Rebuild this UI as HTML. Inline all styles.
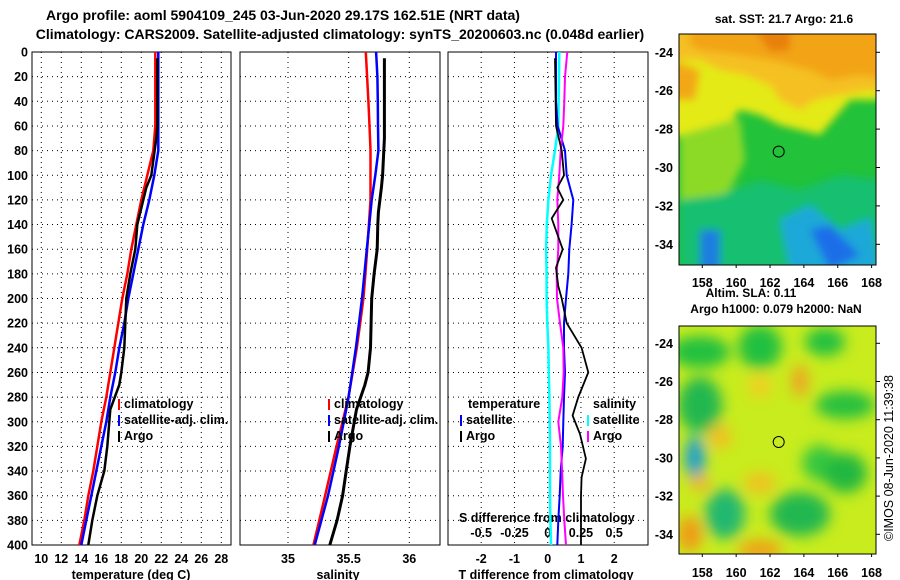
<!DOCTYPE html>
<html><head><meta charset="utf-8"><style>
body{margin:0;background:#fff;}
svg{display:block;font-family:"Liberation Sans",Arial,sans-serif;font-weight:bold;}
</style></head><body>
<svg id="c" width="900" height="580" viewBox="0 0 900 580" xmlns="http://www.w3.org/2000/svg">
<defs>
<filter id="bl" x="-20%" y="-20%" width="140%" height="140%"><feGaussianBlur stdDeviation="7"/></filter>
<filter id="bl2" x="-20%" y="-20%" width="140%" height="140%"><feGaussianBlur stdDeviation="4"/></filter>
<clipPath id="m1"><rect x="679" y="34" width="197" height="231"/></clipPath>
<clipPath id="m2"><rect x="679" y="326" width="197" height="228"/></clipPath>
</defs>
<text x="283" y="20" font-size="14" text-anchor="middle">Argo profile: aoml 5904109_245 03-Jun-2020 29.17S 162.51E (NRT data)</text>
<text x="340" y="39" font-size="14" text-anchor="middle">Climatology: CARS2009. Satellite-adjusted climatology: synTS_20200603.nc (0.048d earlier)</text>

<g clip-path="url(#m1)">
<rect x="679" y="34" width="197" height="231" fill="#22c23a"/>
<g filter="url(#bl2)">
<path d="M670 25 L890 25 L890 100 L850 100 L820 135 L780 125 L760 115 L740 110 L735 115 L728 135 L700 140 L670 135 Z" fill="#e4ea18"/>
<path d="M670 25 L890 25 L890 95 L870 90 L840 95 L815 100 L800 110 L780 100 L770 85 L745 75 L720 70 L700 60 L670 60 Z" fill="#f5c020"/>
<path d="M690 25 L890 25 L890 80 L860 75 L830 80 L810 70 L790 65 L770 60 L740 55 L700 50 L690 45 Z" fill="#f2a418"/>
<path d="M755 30 L790 30 L790 50 L770 52 Z" fill="#e88010"/>
<path d="M670 60 L700 70 L695 100 L670 100 Z" fill="#f2a818"/>
<path d="M680 135 L740 118 L745 160 L730 190 L700 210 L680 200 Z" fill="#8cda28"/>
<path d="M680 200 L720 195 L760 180 L800 190 L840 175 L880 180 L880 270 L680 270 Z" fill="#18c070"/>
<path d="M780 220 L810 205 L840 230 L870 218 L880 270 L790 270 Z" fill="#1aa8d8"/>
<path d="M700 230 L720 230 L720 270 L700 270 Z" fill="#1a7ee0"/>
<path d="M810 230 L830 225 L860 255 L830 270 Z" fill="#1a6ee8"/>
</g>
</g>
<rect x="679" y="34" width="197" height="231" fill="none" stroke="#000" stroke-width="1"/>
<g clip-path="url(#m2)">
<rect x="679" y="326" width="197" height="228" fill="#c8ec1e"/>
<g filter="url(#bl)">
<ellipse cx="700" cy="352" rx="30" ry="16" fill="#22c040"/>
<ellipse cx="760" cy="347" rx="22" ry="22" fill="#22c040"/>
<ellipse cx="825" cy="342" rx="20" ry="14" fill="#22c040"/>
<ellipse cx="700" cy="405" rx="22" ry="28" fill="#22b850"/>
<ellipse cx="845" cy="405" rx="30" ry="14" fill="#28c040"/>
<ellipse cx="820" cy="463" rx="18" ry="18" fill="#38c840"/>
<ellipse cx="845" cy="473" rx="22" ry="20" fill="#22b840"/>
<ellipse cx="800" cy="514" rx="30" ry="22" fill="#20b850"/>
<ellipse cx="725" cy="514" rx="20" ry="25" fill="#20b870"/>
<ellipse cx="695" cy="458" rx="10" ry="22" fill="#1f9ed0"/>
<ellipse cx="760" cy="386" rx="12" ry="12" fill="#f0d020"/>
<ellipse cx="800" cy="381" rx="8" ry="16" fill="#f0a020"/>
<ellipse cx="720" cy="437" rx="12" ry="12" fill="#f2c020"/>
<ellipse cx="760" cy="483" rx="16" ry="10" fill="#f2c020"/>
<ellipse cx="690" cy="534" rx="12" ry="18" fill="#f09a18"/>
<ellipse cx="760" cy="550" rx="22" ry="10" fill="#f0a018"/>
<ellipse cx="700" cy="483" rx="10" ry="8" fill="#f0b020"/>
</g>
</g>
<rect x="679" y="326" width="197" height="228" fill="none" stroke="#000" stroke-width="1"/>
<text x="784" y="23" font-size="12" text-anchor="middle">sat. SST: 21.7 Argo: 21.6</text>
<text x="751" y="297" font-size="12" text-anchor="middle">Altim. SLA: 0.11</text>
<text x="776" y="313" font-size="12" text-anchor="middle">Argo h1000: 0.079 h2000: NaN</text>
<text transform="translate(893,458) rotate(-90)" font-size="12.5" font-weight="normal" text-anchor="middle">©IMOS 08-Jun-2020 11:39:38</text>
<g id="dyn"></g>
</svg>
<script>
const depths=[0,20,40,60,80,100,120,140,160,180,200,220,240,260,280,300,320,340,360,380,400];
const tempClim=[21.4,21.4,21.4,21.4,21.2,20.6,20.0,19.5,19.0,18.6,18.1,17.7,17.3,16.9,16.5,16.0,15.6,15.2,14.7,14.3,13.8];
const tempSat=[21.7,21.7,21.7,21.7,21.7,21.3,20.8,20.2,19.7,19.2,18.7,18.3,17.8,17.4,16.9,16.5,16.0,15.5,15.0,14.5,14.0];
const argoDepths=[5,60,70,100,110,130,140,160,180,200,240,260,270,290,320,340,360,380,400];
const tempArgo=[21.6,21.6,21.5,21.0,20.5,19.9,19.6,19.4,18.9,18.5,18.3,18.0,17.8,16.9,16.6,16.3,15.6,15.1,14.7];
const salClim=[35.641,35.652,35.663,35.672,35.68,35.68,35.68,35.667,35.653,35.638,35.622,35.595,35.567,35.533,35.498,35.45,35.40,35.353,35.306,35.258,35.209];
const salSat=[35.726,35.737,35.74,35.742,35.745,35.72,35.69,35.67,35.65,35.63,35.61,35.585,35.56,35.53,35.50,35.46,35.42,35.375,35.33,35.275,35.22];
const salArgo=[35.795,35.795,35.795,35.78,35.77,35.745,35.74,35.735,35.71,35.69,35.68,35.66,35.634,35.565,35.51,35.48,35.45,35.405,35.345];
const dTSat=[0.25,0.25,0.25,0.3,0.52,0.57,0.77,0.72,0.65,0.62,0.55,0.49,0.49,0.52,0.49,0.47,0.45,0.39,0.36,0.32,0.29];
const dTDepths=[5,60,80,100,110,120,135,160,175,190,200,220,240,260,280,295,310,330,345,360,400];
const dTArgo=[0.22,0.25,0.42,0.49,0.29,0.47,0.12,0.45,0.25,0.32,0.42,0.57,1.02,1.22,0.92,0.75,0.97,1.15,1.02,1.0,1.0];
const dSSat=[0.0875,0.085,0.082,0.08,0.055,0.025,0.005,-0.007,-0.012,-0.008,-0.008,-0.003,0.005,0.008,0.0125,0.015,0.017,0.017,0.017,0.02,0.025];
const dSArgo=[0.1475,0.13,0.125,0.117,0.0975,0.0875,0.0725,0.08,0.08,0.0675,0.07,0.0925,0.1175,0.12,0.11,0.08,0.1,0.108,0.115,0.125,0.1375];
const depthTicks=[0,20,40,60,80,100,120,140,160,180,200,220,240,260,280,300,320,340,360,380,400];
const tempTicks=[10,12,14,16,18,20,22,24,26,28];
const salTicks=[35,35.5,36];
const dTTicks=[-2,-1,0,1,2];
const dSTickLabels=["-0.5","-0.25","0","0.25","0.5"];
const dSTicks=[-0.5,-0.25,0,0.25,0.5];
const latTicks=[-24,-26,-28,-30,-32,-34];
const lonTicks=[158,160,162,164,166,168];

const NS="http://www.w3.org/2000/svg";
const G=document.getElementById('dyn');
function mk(tag,attrs,parent){const e=document.createElementNS(NS,tag);for(const k in attrs)e.setAttribute(k,attrs[k]);(parent||G).appendChild(e);return e;}
const TOP=52,BOT=545;
const Y=d=>TOP+d*((BOT-TOP)/400);
const xT=v=>41.3+(v-10)*10;
const xS=v=>288+(v-35)*121.3;
const xD=v=>547.7+v*33.25;
const xDS=v=>547.7+v*133;
const panels=[[32,231],[240,440],[448,648]];
panels.forEach((p,i)=>{
  const r=mk('rect',{x:p[0],y:TOP,width:p[1]-p[0],height:BOT-TOP,fill:'none',stroke:'#000','stroke-width':1});
  
  
  depthTicks.forEach(d=>{if(d>0&&d<400){const l=mk('line',{x1:p[0],x2:p[1],y1:Y(d),y2:Y(d),stroke:'#000','stroke-dasharray':'1,4'});
    
    }});
});
function vgrid(vals,f){vals.forEach(v=>{const x=f(v);const l=mk('line',{x1:x,x2:x,y1:TOP,y2:BOT,stroke:'#000','stroke-dasharray':'1,4'});
  
  });}
vgrid(tempTicks,xT);vgrid(salTicks,xS);vgrid(dTTicks,xD);
depthTicks.forEach(d=>{const t=mk('text',{x:28,y:Y(d)+4.5,'font-size':12.5,'text-anchor':'end'});t.textContent=d;
  
  });
tempTicks.forEach(v=>{const t=mk('text',{x:xT(v),y:563,'font-size':12.5,'text-anchor':'middle'});t.textContent=v;
  
  });
salTicks.forEach(v=>{const t=mk('text',{x:xS(v),y:563,'font-size':12.5,'text-anchor':'middle'});t.textContent=v;
  
  });
dTTicks.forEach(v=>{const t=mk('text',{x:xD(v),y:563,'font-size':12.5,'text-anchor':'middle'});t.textContent=v;
  
  });
dSTicks.forEach((v,i)=>{const t=mk('text',{x:xDS(v),y:537,'font-size':12.5,'text-anchor':'middle'});t.textContent=dSTickLabels[i];
  
  });
function lab(txt,x,y,name,anchor){const t=mk('text',{x:x,y:y,'font-size':12.5,'text-anchor':anchor||'start'});t.textContent=txt;
  
  return t;}
lab('temperature (deg C)',131,579,'temperature-axis-title','middle');
lab('salinity',338,579,'salinity-axis-title','middle');
lab('T difference from climatology',546,579,'t-diff-axis-title','middle');
lab('S difference from climatology',459,522,'s-diff-axis-title');
function line(xs,ds,f,color,w,name){const pts=xs.map((v,i)=>f(v).toFixed(1)+','+Y(ds[i]).toFixed(1)).join(' ');
  const p=mk('polyline',{points:pts,fill:'none',stroke:color,'stroke-width':w});
  
  }
line(tempClim,depths,xT,'#f00',2.5,'temperature-climatology-line');
line(tempSat,depths,xT,'#00f',2.5,'temperature-satellite-line');
line(tempArgo,argoDepths,xT,'#000',2.5,'temperature-argo-line');
line(salClim,depths,xS,'#f00',2.5,'salinity-climatology-line');
line(salSat,depths,xS,'#00f',2.5,'salinity-satellite-line');
line(salArgo,argoDepths,xS,'#000',3,'salinity-argo-line');
line(dSSat,depths,xDS,'#0ff',2.5,'s-diff-satellite-line');
line(dTSat,depths,xD,'#00f',2,'t-diff-satellite-line');
line(dSArgo,depths,xDS,'#f0f',2,'s-diff-argo-line');
line(dTArgo,dTDepths,xD,'#000',1.8,'t-diff-argo-line');
function leg(x,y,color,txt,name){const r=mk('rect',{x:x,y:y-9,width:2,height:11,fill:color});
  
  
  lab(txt,x+6,y,name);}
[[118,'climatology-legend'],[328,'salinity-climatology-legend']].forEach(a=>{
  leg(a[0],408,'#f00','climatology',a[1]);leg(a[0],424,'#00f','satellite-adj. clim.',a[1]+'-sat');leg(a[0],440,'#000','Argo',a[1]+'-argo');});
lab('temperature',468,408,'legend-temperature-heading');
leg(460,424,'#00f','satellite','legend-t-satellite');
leg(460,440,'#000','Argo','legend-t-argo');
lab('salinity',593,408,'legend-salinity-heading');
leg(587,424,'#0ff','satellite','legend-s-satellite');
leg(587,440,'#f0f','Argo','legend-s-argo');
const lonX=v=>702.3+(v-158)*16.93;
[[34,265,52.3,19.2,287,'sst'],[326,554,343.3,19.1,577,'sla']].forEach(m=>{
  latTicks.forEach(v=>{const y=m[2]+(-24-v)*m[3];
    lab(String(v),673,y+4.5,m[5]+'-lat-label','end');
    const t=mk('line',{x1:876,x2:880,y1:y,y2:y,stroke:'#000'});
    
    });
  lonTicks.forEach(v=>{lab(String(v),lonX(v),m[4],m[5]+'-lon-label','middle');
    const t=mk('line',{x1:lonX(v),x2:lonX(v),y1:m[1],y2:m[1]+3,stroke:'#000'});
    
    });
  const c=mk('circle',{cx:778.7,cy:m[2]+5.17*m[3],r:5.5,fill:'none',stroke:'#000','stroke-width':1});
  
  
});
</script>
</body></html>
